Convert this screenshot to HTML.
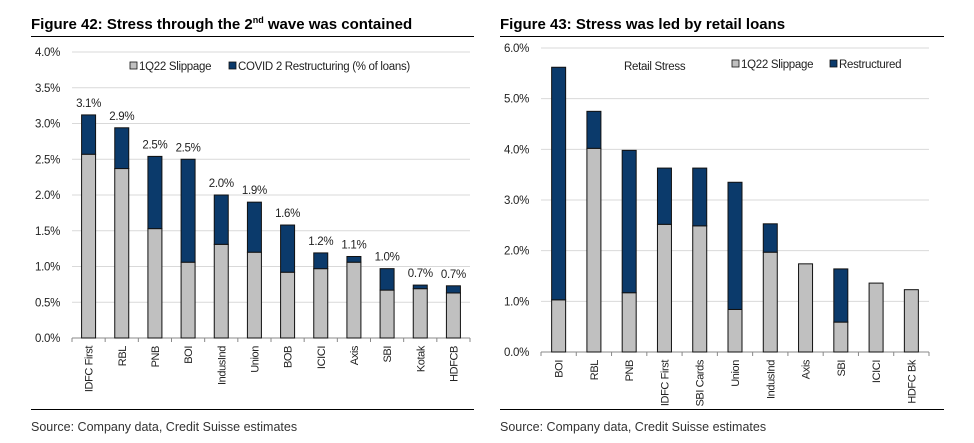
<!DOCTYPE html>
<html><head><meta charset="utf-8"><style>
html,body{margin:0;padding:0;background:#fff;}
svg{display:block;font-family:"Liberation Sans",Arial,sans-serif;}
</style></head><body>
<svg id="s" width="974" height="443" viewBox="0 0 974 443">
<text x="31" y="29" font-size="15" font-weight="bold" fill="#000">Figure 42: Stress through the 2<tspan font-size="9" dy="-6">nd</tspan><tspan dy="6"> wave was contained</tspan></text>
<line x1="31" y1="36.5" x2="474" y2="36.5" stroke="#000" stroke-width="1"/>
<line x1="31" y1="409.5" x2="474" y2="409.5" stroke="#000" stroke-width="1"/>
<text x="31" y="431" font-size="12.5" fill="#333">Source: Company data, Credit Suisse estimates</text>
<text x="500" y="29" font-size="15" font-weight="bold" fill="#000">Figure 43: Stress was led by retail loans</text>
<line x1="500" y1="36.5" x2="944" y2="36.5" stroke="#000" stroke-width="1"/>
<line x1="500" y1="409.5" x2="944" y2="409.5" stroke="#000" stroke-width="1"/>
<text x="500" y="431" font-size="12.5" fill="#333">Source: Company data, Credit Suisse estimates</text>
<g id="c1"></g>
<g id="c2"></g>
</svg>
<script>
const cats1=["IDFC First","RBL","PNB","BOI","IndusInd","Union","BOB","ICICI","Axis","SBI","Kotak","HDFCB"];
const slip1=[2.57,2.37,1.53,1.06,1.31,1.20,0.92,0.97,1.06,0.67,0.69,0.63];
const restr1=[0.55,0.57,1.01,1.44,0.69,0.70,0.66,0.22,0.08,0.30,0.05,0.10];
const labels1=["3.1%","2.9%","2.5%","2.5%","2.0%","1.9%","1.6%","1.2%","1.1%","1.0%","0.7%","0.7%"];
const ticks1=[0,0.5,1,1.5,2,2.5,3,3.5,4];
const cats2=["BOI","RBL","PNB","IDFC First","SBI Cards","Union","IndusInd","Axis","SBI","ICICI","HDFC Bk"];
const slip2=[1.03,4.02,1.17,2.52,2.49,0.84,1.97,1.74,0.59,1.36,1.23];
const restr2=[4.59,0.73,2.81,1.11,1.14,2.51,0.56,0,1.05,0,0];
const ticks2=[0,1,2,3,4,5,6];
const NS="http://www.w3.org/2000/svg";
const NAVY="#0b3a6b",GRAY="#c0c0c0";
function mk(p,t,a){const e=document.createElementNS(NS,t);for(const k in a)e.setAttribute(k,a[k]);p.appendChild(e);return e;}
function draw(g,cfg){
  const {cats,slip,restr,labels,ticks,x0,x1,y0,y1,vmax,bw,tickX}=cfg;
  const y=v=>y0-(v/vmax)*(y0-y1);
  const slot=(x1-x0)/cats.length;
  ticks.forEach((t,i)=>{
    if(t>0){const l=mk(g,"line",{x1:x0,x2:x1,y1:y(t),y2:y(t),stroke:"#d9d9d9","stroke-width":1});
    
    }
    const tx=mk(g,"text",{x:tickX,y:y(t)+4,"font-size":11.5,"text-anchor":"end",fill:"#222","letter-spacing":"-0.3"});
    tx.textContent=t.toFixed(1)+"%";
    
    
  });
  const ax=mk(g,"line",{x1:x0,x2:x1,y1:y0,y2:y0,stroke:"#888","stroke-width":1});
  
  
  for(let i=0;i<=cats.length;i++){
    const tk=mk(g,"line",{x1:x0+i*slot,x2:x0+i*slot,y1:y0,y2:y0+4,stroke:"#888","stroke-width":1});
    
    
  }
  cats.forEach((c,i)=>{
    const cx=x0+slot*(i+0.5);
    const yg=y(slip[i]);
    const r1=mk(g,"rect",{x:cx-bw/2,y:yg,width:bw,height:y0-yg,fill:GRAY,stroke:"#111","stroke-width":1});
    
    
    if(restr[i]>0){
      const yt=y(slip[i]+restr[i]);
      const r2=mk(g,"rect",{x:cx-bw/2,y:yt,width:bw,height:yg-yt,fill:NAVY,stroke:"#111","stroke-width":1});
      
      
    }
    if(labels){
      const lt=mk(g,"text",{x:cx,y:y(slip[i]+restr[i])-8,"font-size":11.5,"text-anchor":"middle",fill:"#222","letter-spacing":"-0.3"});
      lt.textContent=labels[i];
      
      
    }
    const xl=mk(g,"text",{transform:`translate(${cx+4},${y0+8}) rotate(-90)`,"font-size":11,"text-anchor":"end",fill:"#222","letter-spacing":"-0.4"});
    xl.textContent=c;
    
    
  });
}
const c1=document.getElementById("c1"),c2=document.getElementById("c2");
draw(c1,{cats:cats1,slip:slip1,restr:restr1,labels:labels1,ticks:ticks1,x0:72,x1:470,y0:338,y1:52,vmax:4,bw:14,tickX:60});
draw(c2,{cats:cats2,slip:slip2,restr:restr2,labels:null,ticks:ticks2,x0:541,x1:929,y0:352,y1:48,vmax:6,bw:14,tickX:529});
function legend(g,x,y,fill,txt){
  const r=mk(g,"rect",{x:x,y:y-8,width:7,height:7,fill:fill,stroke:"#111","stroke-width":0.8});
  
  
  const t=mk(g,"text",{x:x+9,y:y,"font-size":11.5,fill:"#222","letter-spacing":"-0.3"});
  t.textContent=txt;
  
  
}
legend(c1,130,70,GRAY,"1Q22 Slippage");
legend(c1,229,70,NAVY,"COVID 2 Restructuring (% of loans)");
legend(c2,732,68,GRAY,"1Q22 Slippage");
legend(c2,830,68,NAVY,"Restructured");
const rs=mk(c2,"text",{x:624,y:70,"font-size":11.5,fill:"#222","letter-spacing":"-0.3"});
rs.textContent="Retail Stress";


</script>
</body></html>
